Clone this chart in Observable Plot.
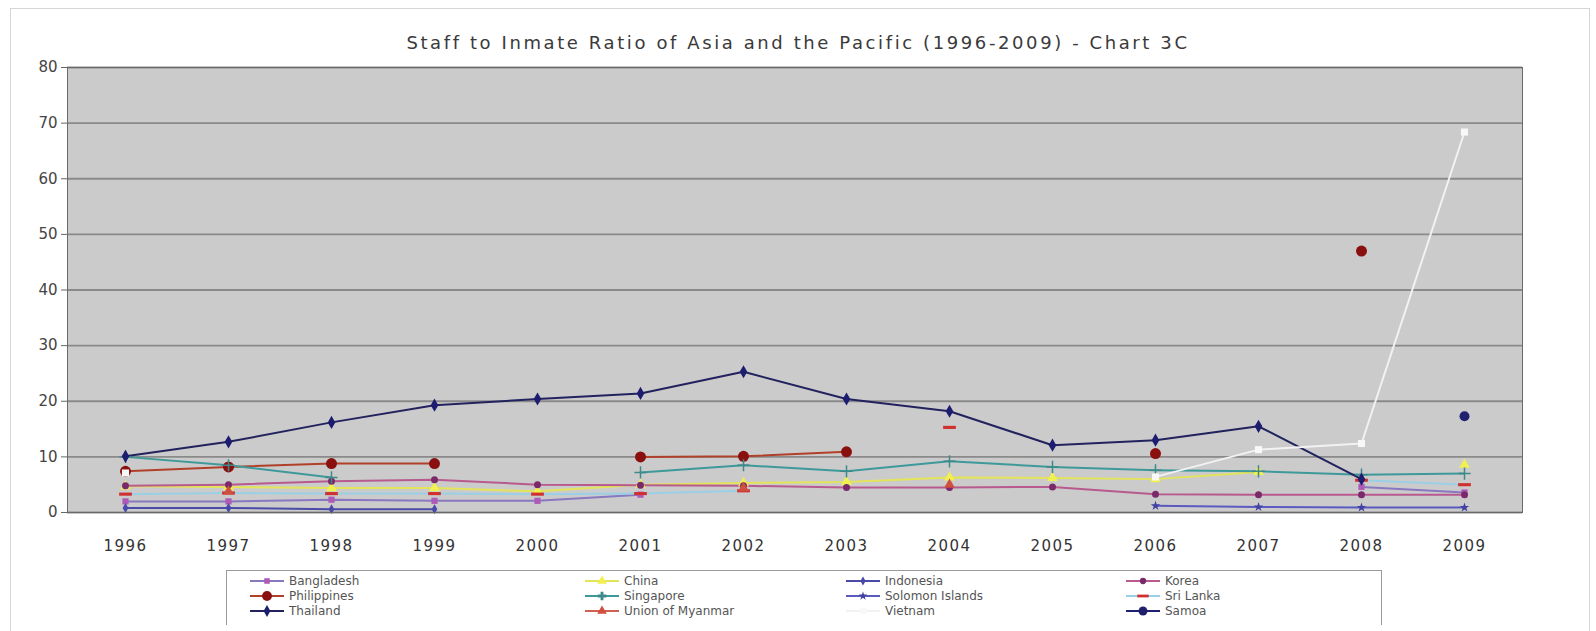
<!DOCTYPE html>
<html><head><meta charset="utf-8">
<script src="https://cdn.jsdelivr.net/npm/d3@7"></script>
<script src="https://cdn.jsdelivr.net/npm/@observablehq/plot@0.6"></script>
<style>
body{margin:0;background:#fff;font-family:"DejaVu Sans",sans-serif;}
#wrap{position:relative;width:1596px;height:631px;overflow:hidden;background:#fff;}
#border{position:absolute;left:10px;top:8px;width:1578px;height:700px;border:1px solid #d6d6d6;}
#title{position:absolute;left:0;width:1596px;top:32px;text-align:center;font-size:18px;color:#3a3a3a;letter-spacing:2.6px;}
#chart{position:absolute;left:0;top:0;}
#legend{position:absolute;left:226px;top:570px;width:1154px;height:54px;border:1px solid #9a9a9a;border-bottom:none;background:#fff;overflow:hidden;}
.item{position:absolute;font-size:12px;color:#555;line-height:14px;white-space:nowrap;}
</style></head>
<body>
<div id="wrap">
  <div id="border"></div>
  <div id="chart"></div>
  <div id="title">Staff to Inmate Ratio of Asia and the Pacific (1996-2009) - Chart 3C</div>
  <div id="legend"></div>
</div>
<script>
const years = ["1996","1997","1998","1999","2000","2001","2002","2003","2004","2005","2006","2007","2008","2009"];
const yTicks = [0,10,20,30,40,50,60,70,80];

const seriesNames = ["Bangladesh","China","Indonesia","Korea","Philippines","Singapore","Solomon Islands","Sri Lanka","Thailand","Union of Myanmar","Vietnam","Samoa"];

const bangladesh   = [2.0, 2.0, 2.3, 2.1, 2.1, 3.2, null, null, null, null, null, null, 4.6, 3.6];
const china        = [4.7, 4.6, 4.4, 4.4, 3.8, 5.0, 5.3, 5.5, 6.3, 6.2, 6.0, 7.3, null, 8.6];
const indonesia    = [0.8, 0.8, 0.6, 0.6, null, null, null, null, null, null, null, null, null, null];
const korea        = [4.8, 5.0, 5.6, 5.9, 5.0, 4.9, 4.8, 4.5, 4.5, 4.6, 3.3, 3.2, 3.2, 3.2];
const philippines  = [7.4, 8.2, 8.8, 8.8, null, 10.0, 10.1, 10.9, null, null, 10.6, null, 47.0, null];
const singapore    = [10.0, 8.5, 6.3, null, null, 7.2, 8.5, 7.4, 9.2, 8.2, 7.6, 7.4, 6.8, 7.0];
const solomon      = [null, null, null, null, null, null, null, null, null, null, 1.2, 1.0, 0.9, 0.9];
const sriLanka     = [3.3, 3.5, 3.4, 3.4, 3.3, 3.4, 3.9, null, 15.3, null, null, null, 5.8, 5.0];
const thailand     = [10.1, 12.7, 16.2, 19.3, 20.4, 21.4, 25.3, 20.4, 18.2, 12.1, 13.0, 15.5, 6.0, null];
const myanmar      = [null, 3.8, null, null, null, null, 4.4, null, 5.0, null, null, null, null, null];
const vietnam      = [7.1, null, null, null, null, null, null, null, null, null, 6.4, 11.3, 12.4, 68.4];
const samoa        = [null, null, null, null, null, null, null, null, null, null, null, null, null, 17.3];

const seriesValues = [bangladesh, china, indonesia, korea, philippines, singapore, solomon, sriLanka, thailand, myanmar, vietnam, samoa];
const lineColors   = ["#8878c0","#e4e45a","#4a4aa8","#b85a8e","#b0402a","#3e9a9a","#5a5ac0","#9ad0e6","#22225e","#d06050","#f2f2f2","#202070"];
const markerColors = ["#b05ab8","#f0f050","#4848a8","#7a2a6a","#8a1010","#3e8a8a","#4040a0","#d03030","#1c1c70","#d05040","#f8f8f8","#202070"];

const dash = {draw(ctx, size){ const w = Math.sqrt(size)*0.9, h = Math.sqrt(size)*0.22; ctx.moveTo(-w,-h); ctx.lineTo(w,-h); ctx.lineTo(w,h); ctx.lineTo(-w,h); ctx.closePath(); }};
const markerSymbols = ["square","triangle","diamond","circle","circle","plus","star",dash,"diamond","triangle","square","circle"];
const markerR       = [3.5, 4, 3, 3.5, 5.5, 4, 3, 4, 4, 4, 4, 5];

const series = seriesNames.map((name, i) => ({
  name, line: lineColors[i], marker: markerColors[i], symbol: markerSymbols[i], r: markerR[i],
  rows: years.map((y, j) => ({series: name, year: y, value: seriesValues[i][j]}))
}));

const marks = [
  Plot.frame({fill: "#cbcbcb"}),
  Plot.gridY(yTicks, {stroke: "#8a8a8a", strokeOpacity: 1, strokeWidth: 1.8}),
  ...series.map(s => Plot.line(s.rows, {x: "year", y: "value", stroke: s.line, strokeWidth: 2})),
  ...series.map(s => {
    const strokeSym = s.symbol === "plus";
    return Plot.dot(s.rows.filter(d => d.value != null), {
      x: "year", y: "value", symbol: s.symbol, r: s.r,
      fill: strokeSym ? "none" : s.marker,
      stroke: strokeSym ? s.marker : "none", strokeWidth: strokeSym ? 1.5 : 0
    });
  }),
  Plot.frame({stroke: "#6a6a6a", strokeWidth: 1}),
  Plot.axisY(yTicks, {tickSize: 6, tickPadding: 4, stroke: "#666", fill: "#444", fontSize: 15}),
  Plot.axisX({tickSize: 0, tickPadding: 28, fill: "#333", fontSize: 15})
];

const chart = Plot.plot({
  width: 1596, height: 570,
  marginTop: 67, marginBottom: 58, marginLeft: 67, marginRight: 74,
  style: {fontFamily: "DejaVu Sans, sans-serif", background: "transparent", color: "#333"},
  x: {type: "point", domain: years, padding: 0.5, label: null},
  y: {domain: [0, 80], label: null},
  marks
});
chart.querySelectorAll("g[aria-label='x-axis tick label'] text").forEach(t => t.setAttribute("letter-spacing", "1.5"));
document.getElementById("chart").appendChild(chart);

// Legend
const legend = d3.select("#legend");
const colText = [287, 622, 883, 1163];
const rowY = [10, 25, 40];
const symbolMap = {square: d3.symbolSquare, triangle: d3.symbolTriangle, diamond: d3.symbolDiamond, circle: d3.symbolCircle, plus: d3.symbolCross, star: d3.symbolStar};
series.forEach((s, i) => {
  const col = i % 4, row = Math.floor(i / 4);
  const left = colText[col] - 226 - 40;
  const top = rowY[row];
  const svg = legend.append("svg").attr("width", 38).attr("height", 14)
    .style("position", "absolute").style("left", left + "px").style("top", (top - 7) + "px");
  svg.append("line").attr("x1", 2).attr("x2", 36).attr("y1", 7).attr("y2", 7).attr("stroke", s.line).attr("stroke-width", 2);
  const sym = typeof s.symbol === "string" ? symbolMap[s.symbol] : s.symbol;
  const size = Math.PI * s.r * s.r * 0.8;
  svg.append("path").attr("transform", "translate(19,7)").attr("d", d3.symbol(sym, size)()).attr("fill", s.marker);
  legend.append("div").attr("class", "item").style("left", (colText[col] - 226 + 1) + "px").style("top", (top - 7) + "px").text(s.name);
});
</script>
</body></html>
